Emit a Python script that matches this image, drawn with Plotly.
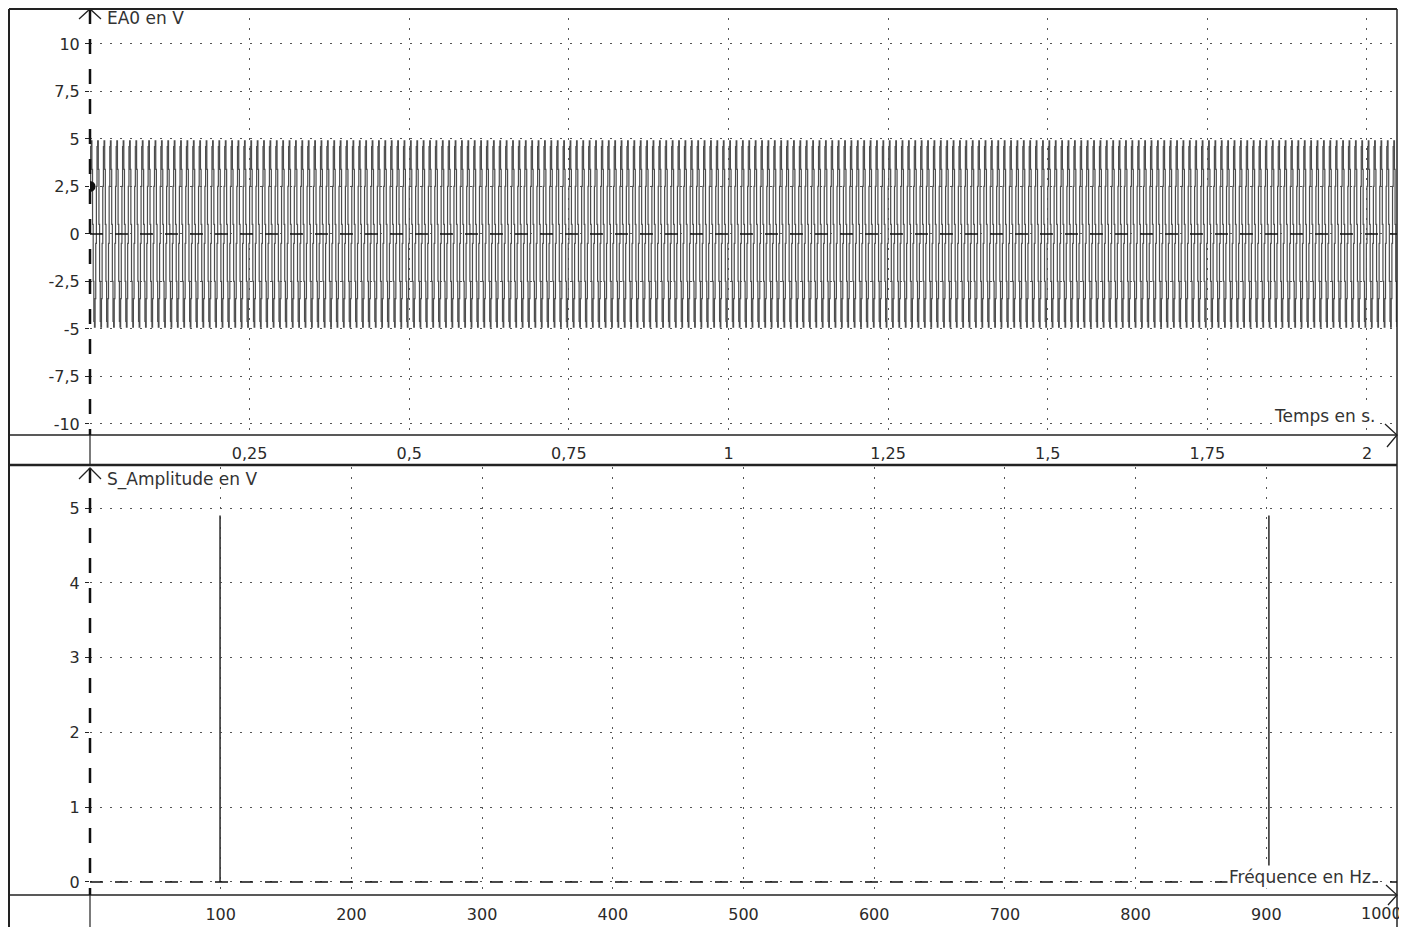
import plotly.graph_objects as go

# ---------------- data ----------------
# one period of the sampled signal EA0 (V), read from the step levels in the picture
ea0_period_values = [2.5, 4.6, 4.9, 3.4, 0.5, -2.5, -4.6, -4.9, -3.4, -0.5]
n_samples = 2048
sample_step_s = 0.001

# spectrum lines (Hz, V)
spec_freqs = [99.5, 902]
spec_amps = [4.9, 4.9]

top_xticks = [0.25, 0.5, 0.75, 1, 1.25, 1.5, 1.75, 2]
top_xtext = ["0,25", "0,5", "0,75", "1", "1,25", "1,5", "1,75", "2"]
top_yticks = [-10, -7.5, -5, -2.5, 0, 2.5, 5, 7.5, 10]
top_ytext = ["-10", "-7,5", "-5", "-2,5", "0", "2,5", "5", "7,5", "10"]
bot_xticks = [100, 200, 300, 400, 500, 600, 700, 800, 900, 1000]
bot_xtext = [str(v) for v in bot_xticks]
bot_yticks = [0, 1, 2, 3, 4, 5]
bot_ytext = [str(v) for v in bot_yticks]

# ---------------- build ----------------
# the page body has an 8px margin: lay the figure out in reference pixels shifted by it
OFF = 8
W, H = 1407 - OFF, 927 - OFF
def px(x):
    return (x - OFF) / W
def py(y):
    return 1 - (y - OFF) / H

ea0 = [ea0_period_values[i % len(ea0_period_values)] for i in range(n_samples)]
t = [i * sample_step_s for i in range(n_samples)]

sx, sy = [], []
for f, a in zip(spec_freqs, spec_amps):
    sx += [f, f, None]
    sy += [0, a, None]

fig = go.Figure()
fig.add_trace(go.Scatter(x=t, y=ea0, mode="lines", line=dict(color="#4d4d4d", width=1.2, shape="hv"),
                         xaxis="x", yaxis="y", hoverinfo="skip"))
fig.add_trace(go.Scatter(x=[t[0]], y=[ea0[0]], mode="markers",
                         marker=dict(color="#111111", size=11), xaxis="x", yaxis="y"))
fig.add_trace(go.Scatter(x=sx, y=sy, mode="lines", line=dict(color="#333333", width=1.6),
                         xaxis="x2", yaxis="y2"))

font = dict(family="DejaVu Sans, Verdana, sans-serif", size=16, color="#2a2a2a")
grid = dict(showgrid=True, gridcolor="#555555", gridwidth=1, griddash="2px,8px",
            showline=False, zeroline=False, tickfont=font)

x_dom = [px(90), px(1397)]
fig.update_layout(
    width=W, height=H, margin=dict(l=0, r=0, t=0, b=0),
    paper_bgcolor="white", plot_bgcolor="white", showlegend=False,
    xaxis=dict(domain=x_dom, range=[0, 2.047], tickvals=top_xticks, ticktext=top_xtext,
               ticks="", ticklabelstandoff=7, anchor="y", **grid),
    yaxis=dict(domain=[py(435), py(8)], range=[-10.58, 11.89], tickvals=top_yticks,
               ticktext=top_ytext, ticks="outside", ticklen=4, tickcolor="#222",
               ticklabelstandoff=2, anchor="x", **grid),
    xaxis2=dict(domain=x_dom, range=[0, 1000], tickvals=bot_xticks, ticktext=bot_xtext,
                ticks="", ticklabelstandoff=8, anchor="y2", **grid),
    yaxis2=dict(domain=[py(895), py(467)], range=[-0.174, 5.55], tickvals=bot_yticks,
                ticktext=bot_ytext, ticks="outside", ticklen=4, tickcolor="#222",
                ticklabelstandoff=2, anchor="x2", **grid),
)

shapes = []
def pline(x0, y0, x1, y1, w=1.5, dash="solid", color="#222222"):
    shapes.append(dict(type="line", xref="paper", yref="paper", x0=px(x0), y0=py(y0),
                       x1=px(x1), y1=py(y1), line=dict(color=color, width=w, dash=dash)))

# frame
pline(9, 9, 9, 927, 2)
pline(9, 9, 1397, 9, 2)
pline(1397, 9, 1397, 927, 1.5)
pline(9, 435, 1397, 435, 1.5)
pline(9, 465, 1397, 465, 2.5)
pline(9, 895, 1397, 895, 1.5)
# y axes
pline(90, 9, 90, 435, 2.5, "longdash", "#111111")
pline(90, 435, 90, 465, 1.2)
pline(90, 468, 90, 895, 2.5, "longdash", "#111111")
pline(90, 895, 90, 927, 1.2)

# dashed zero lines
shapes.append(dict(type="line", xref="x domain", yref="y", x0=0, x1=1, y0=0, y1=0,
                   line=dict(color="#111111", width=1.5, dash="13px,12px")))
shapes.append(dict(type="line", xref="x2 domain", yref="y2", x0=0, x1=1, y0=0, y1=0,
                   line=dict(color="#111111", width=1.5, dash="13px,12px")))

# arrow chevrons
def chevron(pts, w=1.3):
    d = "M " + " L ".join(f"{px(a)},{py(b)}" for a, b in pts)
    shapes.append(dict(type="path", xref="paper", yref="paper", path=d,
                       line=dict(color="#222222", width=w)))
chevron([(79, 19), (90, 9), (101, 19)])
chevron([(1385, 424), (1397, 435), (1387, 447)])
chevron([(79, 479), (90, 468), (101, 479)])
chevron([(1386, 885), (1397, 895), (1388, 905)])

fig.update_layout(shapes=shapes)

# last frequency tick label sits at the right edge (plotly drops it), so draw it as text
fig.add_annotation(xref="paper", yref="paper", x=px(1404), y=py(913), text=bot_xtext[-1],
                   showarrow=False, xanchor="right", yanchor="middle", font=font)

tfont = dict(family="DejaVu Sans, Verdana, sans-serif", size=17, color="#333333")
fig.add_annotation(xref="paper", yref="paper", x=px(105), y=py(18), text="EA0 en V",
                   showarrow=False, xanchor="left", yanchor="middle", font=tfont)
fig.add_annotation(xref="paper", yref="paper", x=px(1377), y=py(416), text="Temps en s.",
                   showarrow=False, xanchor="right", yanchor="middle", font=tfont,
                   bgcolor="white")
fig.add_annotation(xref="paper", yref="paper", x=px(105), y=py(479), text="S_Amplitude en V",
                   showarrow=False, xanchor="left", yanchor="middle", font=tfont)
fig.add_annotation(xref="paper", yref="paper", x=px(1373), y=py(877), text="Fréquence en Hz",
                   showarrow=False, xanchor="right", yanchor="middle", font=tfont,
                   bgcolor="white")

fig.write_html("out.html")
